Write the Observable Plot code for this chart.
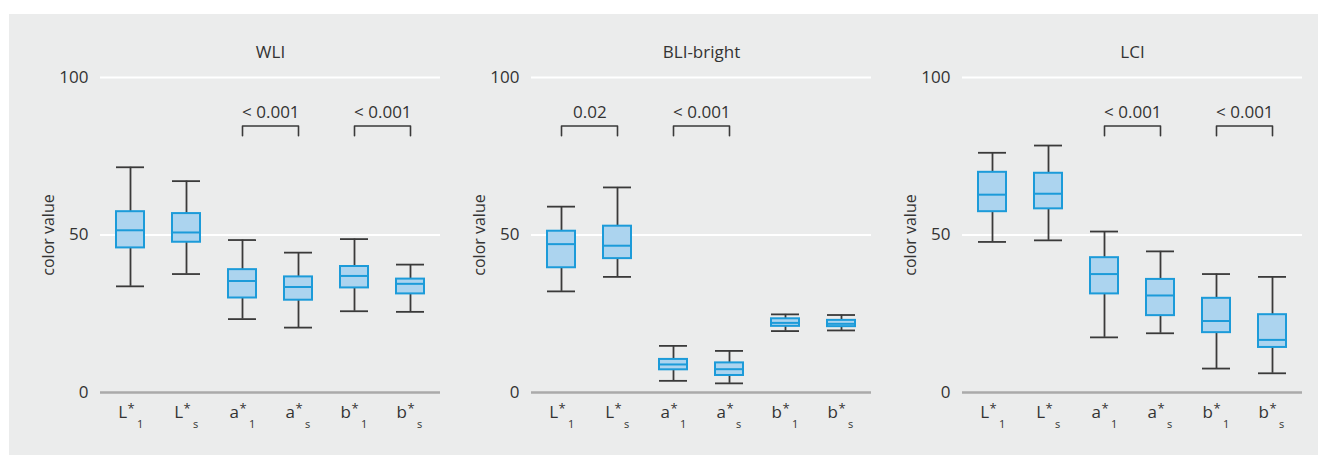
<!DOCTYPE html>
<html><head><meta charset="utf-8">
<script src="https://cdn.jsdelivr.net/npm/d3@7"></script>
<script src="https://cdn.jsdelivr.net/npm/@observablehq/plot@0.6"></script>
<style>
body{margin:0;background:#fff;}
#wrap{position:absolute;left:9px;top:14px;width:1309px;height:441px;background:#ebecec;display:flex;}
#wrap svg{display:block;flex:none;}
</style></head><body><div id="wrap"></div>
<script>
const categories = ["L*1","L*s","a*1","a*s","b*1","b*s"];
const catBase = ["L","L","a","a","b","b"];
const catSub = ["1","s","1","s","1","s"];
const panelTitles = ["WLI","BLI-bright","LCI"];
const yTicks = [0,50,100];
const yLabel = "color value";

// WLI
const wliLow  = [33.7,37.6,23.3,20.6,25.8,25.6];
const wliQ1   = [45.9,47.7,30.0,29.3,33.2,31.3];
const wliMed  = [51.5,50.8,35.4,33.5,37.0,34.5];
const wliQ3   = [57.4,56.8,39.0,36.7,40.0,36.0];
const wliHigh = [71.5,67.1,48.4,44.4,48.7,40.6];
const wliPairs = [["a*1","a*s","< 0.001"],["b*1","b*s","< 0.001"]];

// BLI-bright
const bliLow  = [32.1,36.7,3.7,2.9,19.5,19.7];
const bliQ1   = [39.6,42.5,7.2,5.4,21.0,20.9];
const bliMed  = [47.1,46.6,8.9,7.4,22.1,21.8];
const bliQ3   = [51.2,52.8,10.5,9.4,23.4,22.9];
const bliHigh = [59.0,65.1,14.8,13.2,24.8,24.6];
const bliPairs = [["L*1","L*s","0.02"],["a*1","a*s","< 0.001"]];

// LCI
const lciLow  = [47.8,48.3,17.5,18.8,7.6,6.1];
const lciQ1   = [57.4,58.3,31.3,24.4,19.0,14.3];
const lciMed  = [62.8,63.1,37.6,30.8,22.7,16.7];
const lciQ3   = [69.9,69.6,42.8,35.9,29.9,24.7];
const lciHigh = [76.1,78.4,51.1,44.8,37.6,36.7];
const lciPairs = [["a*1","a*s","< 0.001"],["b*1","b*s","< 0.001"]];

const bracketTop = 84.6;
const bracketFoot = 81.5;
const pLabelY = 88.9;

const boxFill = "#acd4ef", boxStroke = "#1c9bd9", ink = "#3a3a3a";

function panel(title, low, q1, med, q3, high, pairs, width, marginRight) {
  const rows = categories.map((c, i) => ({cat: c, base: catBase[i], sub: catSub[i],
    low: low[i], q1: q1[i], med: med[i], q3: q3[i], high: high[i]}));
  const bracketPts = pairs.flatMap(([a, b], j) => [
    {g: j, cat: a, y: bracketFoot}, {g: j, cat: a, y: bracketTop},
    {g: j, cat: b, y: bracketTop}, {g: j, cat: b, y: bracketFoot}]);
  const labels = pairs.map(([a, b, t]) => ({cat: a, t, y: pLabelY}));
  const step = (width - 91 - marginRight) / categories.length;
  return Plot.plot({
    width, height: 441,
    marginLeft: 91, marginRight, marginTop: 63, marginBottom: 63,
    style: {fontFamily: "'Open Sans', sans-serif", fontSize: "17px", background: "transparent", color: "#333"},
    x: {domain: categories, paddingInner: 0.5, paddingOuter: 0.25, axis: null},
    y: {domain: [0, 100], axis: null},
    marks: [
      Plot.ruleY([50, 100], {stroke: "white", strokeWidth: 2}),
      Plot.ruleY([0], {stroke: "#aaaaaa", strokeWidth: 2.5}),
      Plot.axisY({ticks: yTicks, tickSize: 0, tickPadding: 12, label: null, fontSize: 17}),
      Plot.text([yLabel], {frameAnchor: "left", textAnchor: "middle", lineAnchor: "middle", dx: -52, rotate: -90, fontSize: 16, fill: "#333"}),
      Plot.text([title], {frameAnchor: "top", lineAnchor: "middle", dy: -25, fontSize: 17, fill: "#333"}),
      Plot.ruleX(rows, {x: "cat", y1: "low", y2: "high", stroke: ink, strokeWidth: 1.8}),
      Plot.tickY(rows, {x: "cat", y: "low", stroke: ink, strokeWidth: 1.8}),
      Plot.tickY(rows, {x: "cat", y: "high", stroke: ink, strokeWidth: 1.8}),
      Plot.barY(rows, {x: "cat", y1: "q1", y2: "q3", fill: boxFill, stroke: boxStroke, strokeWidth: 2}),
      Plot.tickY(rows, {x: "cat", y: "med", stroke: boxStroke, strokeWidth: 2}),
      Plot.line(bracketPts, {x: "cat", y: "y", z: "g", stroke: ink, strokeWidth: 1.6, curve: "linear"}),
      Plot.text(labels, {x: "cat", y: "y", text: "t", dx: step / 2, fontSize: 17, fill: "#333"}),
      Plot.text(rows, {x: "cat", text: "base", frameAnchor: "bottom", textAnchor: "end", dx: -3.5, dy: 25, fontSize: 17, fill: "#333"}),
      Plot.text(rows, {x: "cat", text: () => "*", frameAnchor: "bottom", textAnchor: "start", dx: -3, dy: 20, fontSize: 13, fill: "#333"}),
      Plot.text(rows, {x: "cat", text: "sub", frameAnchor: "bottom", textAnchor: "start", dx: 6.5, dy: 35, fontSize: 11, fill: "#333"})
    ]
  });
}

const wrap = document.getElementById("wrap");
wrap.append(panel(panelTitles[0], wliLow, wliQ1, wliMed, wliQ3, wliHigh, wliPairs, 431, 0));
wrap.append(panel(panelTitles[1], bliLow, bliQ1, bliMed, bliQ3, bliHigh, bliPairs, 431, 0));
wrap.append(panel(panelTitles[2], lciLow, lciQ1, lciMed, lciQ3, lciHigh, lciPairs, 447, 16));
</script>
</body></html>
